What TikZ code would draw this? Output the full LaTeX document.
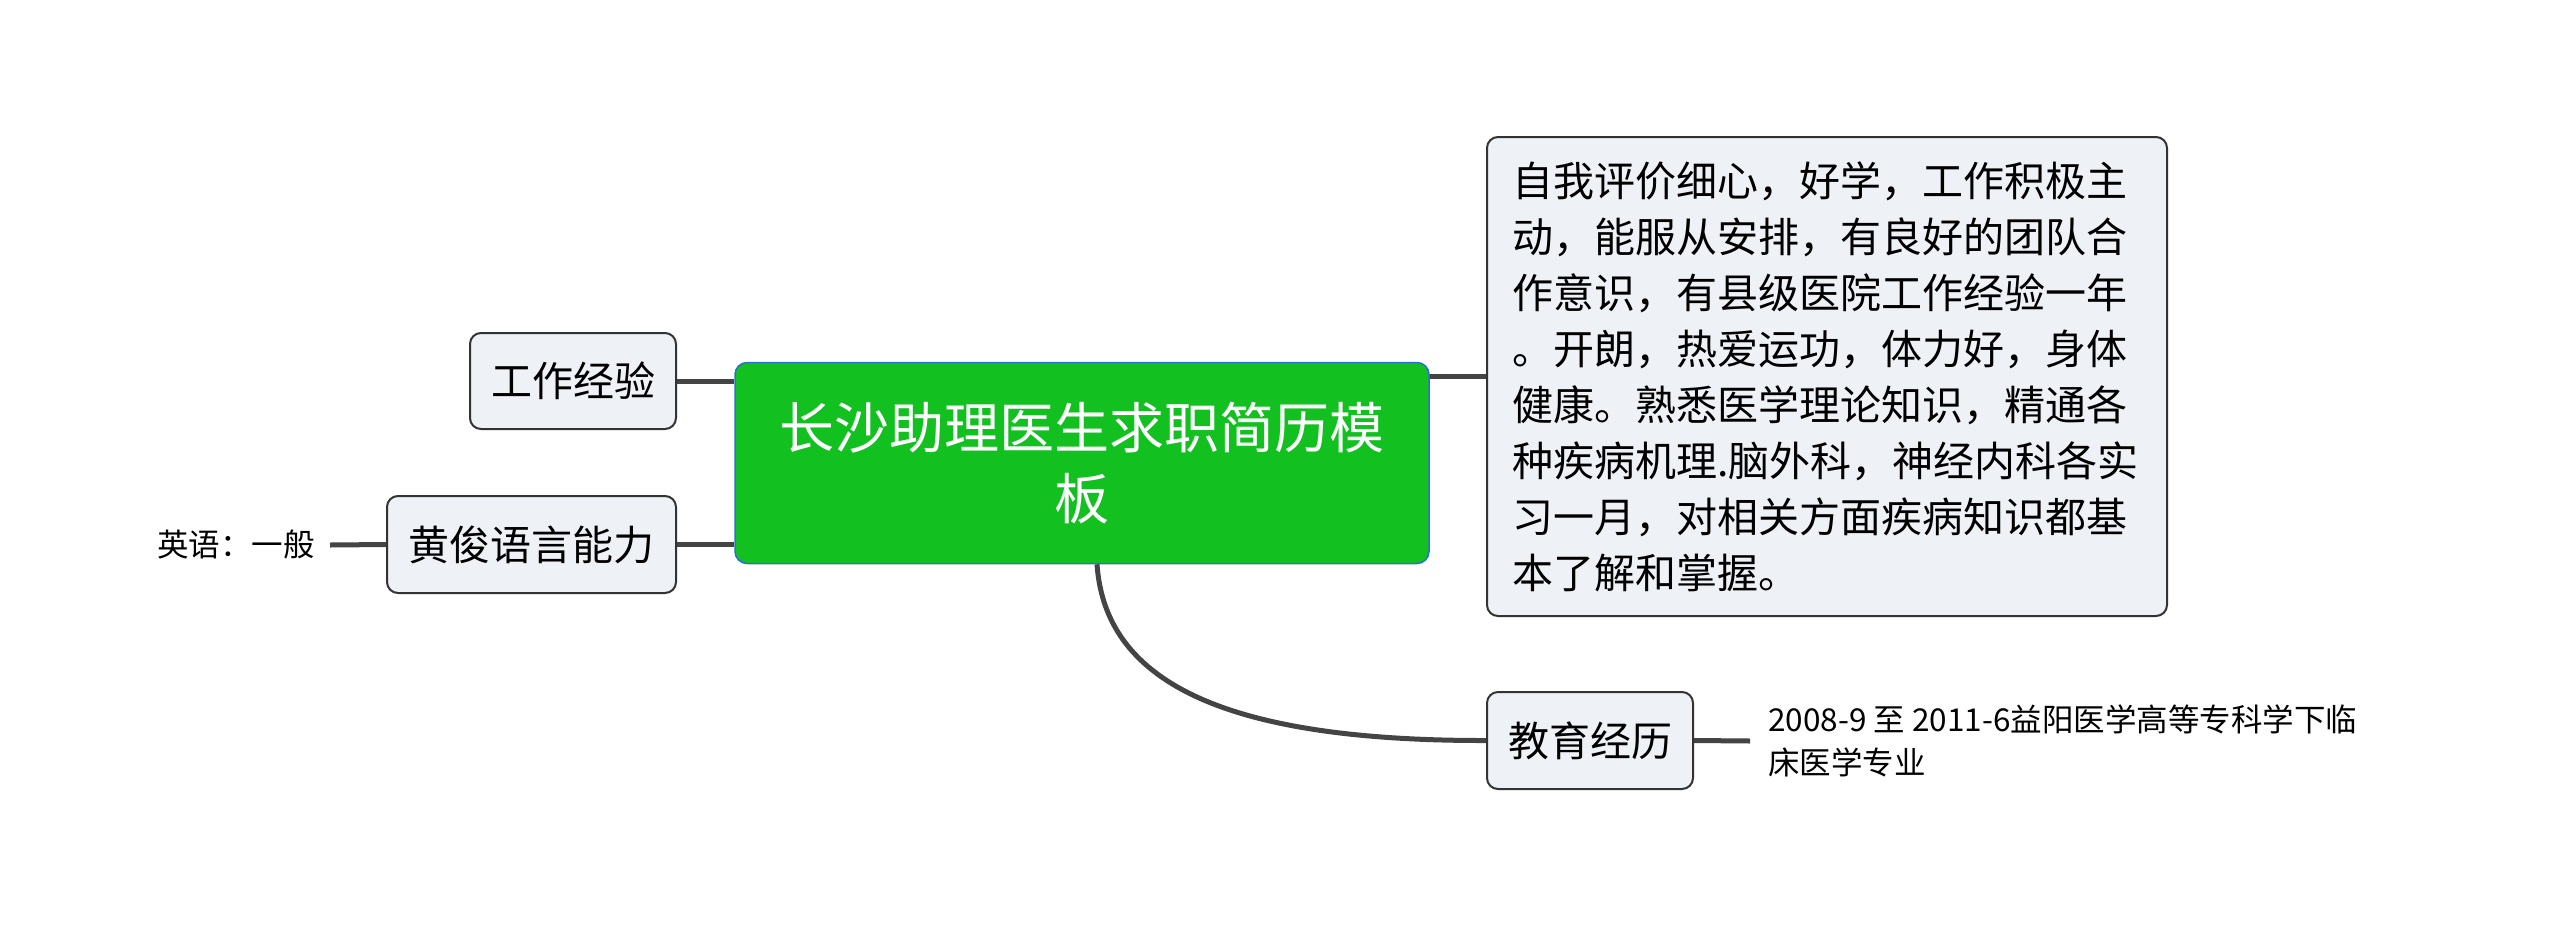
\documentclass[tikz,border=0pt]{standalone}
\usepackage{fontspec}
\setmainfont{Noto Sans CJK SC}
\usetikzlibrary{positioning, backgrounds}
\definecolor{rootgreen}{RGB}{18,193,32}
\definecolor{rootline}{RGB}{42,111,214}
\definecolor{boxfill}{RGB}{238,241,245}
\definecolor{boxline}{RGB}{51,51,51}
\definecolor{linkgray}{RGB}{68,68,68}

\begin{document}
\begin{tikzpicture}[x=1pt, y=-1pt,
		root/.style={draw=rootline, line width=1.5pt, fill=rootgreen, rounded corners=12pt, text=white, align=center, inner sep=0pt, font=\fontsize{55}{71}\selectfont},
		topic/.style={draw=boxline, line width=2pt, fill=boxfill, rounded corners=11pt, inner sep=0pt, font=\fontsize{41}{56}\selectfont},
		note/.style={inner sep=0pt, align=left, font=\fontsize{31.5}{43}\selectfont},
		link/.style={draw=linkgray, line width=5pt}]
		\useasboundingbox (0,0) rectangle (2560,935);
		
		\node [root, minimum width=694, minimum height=201] (root) at (1082,463) {长沙助理医生求职简历模\\板};
		
		\node [topic, minimum width=206, minimum height=96] (work) at (573,381) {工作经验};
		\node [topic, minimum width=289, minimum height=97] (lang) at (531.5,544.5) {黄俊语言能力};
		\node [topic, minimum width=206, minimum height=97] (edu) at (1590,740.5) {教育经历};
		\node [topic, minimum width=680, minimum height=479, text width=630, align=left] (eval) at (1827,376.5) {自我评价细心，好学，工作积极主\\动，能服从安排，有良好的团队合\\作意识，有县级医院工作经验一年\\。开朗，热爱运功，体力好，身体\\健康。熟悉医学理论知识，精通各\\种疾病机理.脑外科，神经内科各实\\习一月，对相关方面疾病知识都基\\本了解和掌握。};
		
		\node [note, anchor=east, inner xsep=15pt] (eng) at (330,545) {英语：一般};
		\node [note, anchor=west, inner xsep=18pt] (school) at (1750,741) {2008-9 至 2011-6益阳医学高等专科学下临\\床医学专业};
		
		% connectors
		\begin{scope}[on background layer]
			\draw [link] (work.east) -- (work.east -| root.west);
			\draw [link] (lang.east) -- (lang.east -| root.west);
			\draw [link] (root.east |- eval.west) -- (eval.west);
			\draw [link] ([xshift=15pt]root.south) .. controls (1105,680) and (1220,741) .. (edu.west);
			\draw [link] (eng.east) -- (lang.west);
			\draw [link] (edu.east) -- (school.west);
		\end{scope}
	\end{tikzpicture}
\end{document}
